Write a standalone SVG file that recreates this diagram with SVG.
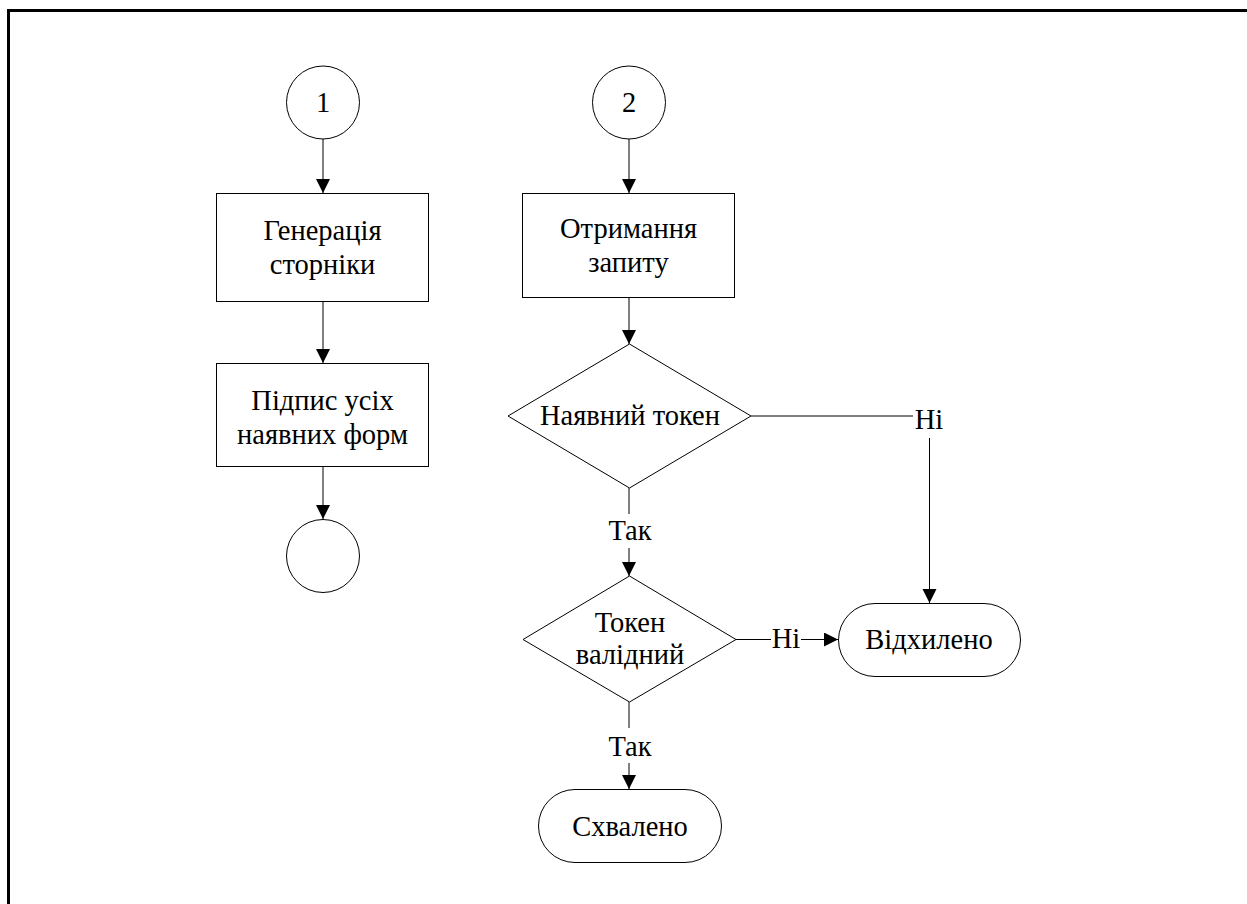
<svg xmlns="http://www.w3.org/2000/svg" width="1247" height="904" viewBox="0 0 1247 904">
  <style>
    .shape { fill: #fff; stroke: #000; stroke-width: 1; }
    .txt { font-family: 'Liberation Serif', 'DejaVu Serif', serif; font-size: 28.5px; fill: #000; text-anchor: middle; }
    .link { fill: none; stroke: #000; stroke-width: 1; }
  </style>
  <defs>
    <marker id="arrow" markerUnits="userSpaceOnUse" markerWidth="15" markerHeight="15" refX="14" refY="7" orient="auto">
      <path d="M0,0 L14,7 L0,14 Z" fill="#000"/>
    </marker>
  </defs>

  <rect x="0" y="0" width="1247" height="904" fill="#fff"/>
  <!-- frame -->
  <rect x="8.5" y="10.5" width="1260" height="920" fill="none" stroke="#000" stroke-width="3"/>

  <g id="connectors">
    <line class="link" x1="323" y1="139" x2="323" y2="193" marker-end="url(#arrow)"/>
    <line class="link" x1="323" y1="302" x2="323" y2="363" marker-end="url(#arrow)"/>
    <line class="link" x1="323" y1="467" x2="323" y2="519" marker-end="url(#arrow)"/>
    <line class="link" x1="629" y1="139" x2="629" y2="193" marker-end="url(#arrow)"/>
    <line class="link" x1="629" y1="298" x2="629" y2="344" marker-end="url(#arrow)"/>
    <!-- Наявний токен: Ні -->
    <line class="link" x1="751" y1="416" x2="913" y2="416"/>
    <text class="txt" x="929" y="429">Ні</text>
    <line class="link" x1="929.5" y1="438" x2="929.5" y2="603" marker-end="url(#arrow)"/>
    <!-- Наявний токен: Так -->
    <line class="link" x1="629" y1="488" x2="629" y2="514"/>
    <text class="txt" x="630" y="540">Так</text>
    <line class="link" x1="629" y1="548" x2="629" y2="576" marker-end="url(#arrow)"/>
    <!-- Токен валідний: Ні -->
    <line class="link" x1="736" y1="639.5" x2="771" y2="639.5"/>
    <text class="txt" x="786" y="648">Ні</text>
    <line class="link" x1="801" y1="639.5" x2="838" y2="639.5" marker-end="url(#arrow)"/>
    <!-- Токен валідний: Так -->
    <line class="link" x1="629" y1="702" x2="629" y2="728"/>
    <text class="txt" x="630" y="756">Так</text>
    <line class="link" x1="629" y1="763" x2="629" y2="789" marker-end="url(#arrow)"/>
  </g>

  <g id="start1">
    <circle class="shape" cx="323" cy="102.5" r="36.5"/>
    <text class="txt" x="323" y="112">1</text>
  </g>
  <g id="generate">
    <rect class="shape" x="216.5" y="193.5" width="212" height="108"/>
    <text class="txt" x="322.5" y="240">Генерація</text>
    <text class="txt" x="322.5" y="274">сторніки</text>
  </g>
  <g id="sign">
    <rect class="shape" x="216.5" y="363.5" width="212" height="103"/>
    <text class="txt" x="322.5" y="410">Підпис усіх</text>
    <text class="txt" x="322.5" y="444">наявних форм</text>
  </g>
  <g id="end1">
    <circle class="shape" cx="323" cy="556" r="36.5"/>
  </g>

  <g id="start2">
    <circle class="shape" cx="629" cy="102.5" r="36.5"/>
    <text class="txt" x="629" y="112">2</text>
  </g>
  <g id="receive">
    <rect class="shape" x="522.5" y="193.5" width="212" height="104"/>
    <text class="txt" x="628.5" y="238">Отримання</text>
    <text class="txt" x="628.5" y="272">запиту</text>
  </g>
  <g id="hasToken">
    <polygon class="shape" points="629.5,344 751,416 629.5,488 508,416"/>
    <text class="txt" x="630" y="425">Наявний токен</text>
  </g>
  <g id="validToken">
    <polygon class="shape" points="629.5,576 736,639.5 629.5,702 523,639.5"/>
    <text class="txt" x="630" y="632">Токен</text>
    <text class="txt" x="630" y="664">валідний</text>
  </g>
  <g id="rejected">
    <rect class="shape" x="838.5" y="603.5" width="182" height="73" rx="36.5" ry="36.5"/>
    <text class="txt" x="929" y="649">Відхилено</text>
  </g>
  <g id="approved">
    <rect class="shape" x="538.5" y="789.5" width="183" height="73" rx="36.5" ry="36.5"/>
    <text class="txt" x="630" y="836">Схвалено</text>
  </g>
</svg>
